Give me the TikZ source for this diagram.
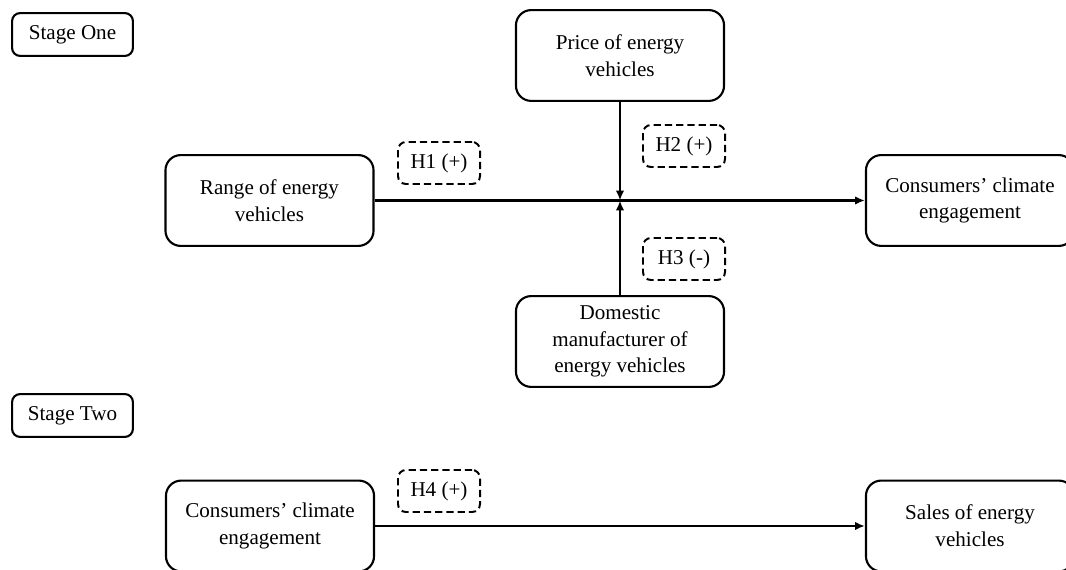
\documentclass[tikz,border=0pt]{standalone}
\usepackage{fontspec}
\setmainfont{Liberation Serif}
\usetikzlibrary{arrows.meta}

\tikzset{
  varbox/.style={draw, line width=1.5pt, rounded corners=0.38cm, minimum width=5.2cm,
    minimum height=2.27cm, align=center,
    font=\fontsize{15}{19}\selectfont},
  stagebox/.style={draw, line width=1.5pt, rounded corners=0.2cm, minimum width=3.02cm,
    minimum height=1.07cm, font=\fontsize{15}{18}\selectfont},
  hypbox/.style={draw, dashed, dash pattern=on 5pt off 3pt, line width=1.4pt,
    rounded corners=0.2cm, minimum width=2.05cm, minimum height=1.05cm,
    font=\fontsize{15}{18}\selectfont},
  path/.style={line width=1.5pt, -{Latex[length=7pt,width=6pt]}},
}

\begin{document}
\begin{tikzpicture}[x=0.025cm, y=-0.025cm]
\useasboundingbox (0,0) rectangle (1066,570);
% Stage one
\node[stagebox] (stageone) at (72.5,34.5) {Stage One};
\node[varbox] (price) at (620,55.5) {Price of energy\\vehicles};
\node[varbox] (range) at (269.5,200.5) {Range of energy\\vehicles};
\node[varbox] (climate) at (970,200.5) {Consumers’ climate\\engagement};
\node[varbox] (domestic) at (620,341.5) {Domestic\\manufacturer of\\energy vehicles};
\coordinate (joint) at (620,200.5);
\node[hypbox] (hone) at (439,163) {H1 (+)};
\node[hypbox] (htwo) at (684,146) {H2 (+)};
\node[hypbox] (hthree) at (684,259) {H3 (-)};
\draw[path] (range) -- (climate);
\draw[path] (price) -- (joint);
\draw[path] (domestic) -- (joint);
% Stage two
\node[stagebox] (stagetwo) at (72.5,415.5) {Stage Two};
\node[varbox] (climatetwo) at (270,526) {Consumers’ climate\\engagement};
\node[varbox] (sales) at (970,526) {Sales of energy\\vehicles};
\node[hypbox] (hfour) at (439,491) {H4 (+)};
\draw[path] (climatetwo) -- (sales);
\end{tikzpicture}
\end{document}
